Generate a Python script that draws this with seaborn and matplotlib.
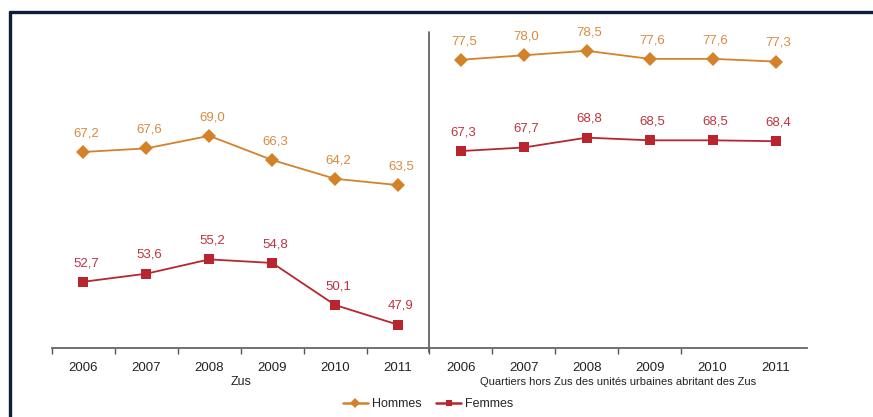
import pandas as pd
import matplotlib.pyplot as plt
import matplotlib.transforms as mtransforms
from matplotlib.lines import Line2D
import seaborn as sns

# Data
years = ["2006", "2007", "2008", "2009", "2010", "2011"]
zones = ["Zus", "Quartiers hors Zus des unités urbaines abritant des Zus"]
hommes_zus = [67.2, 67.6, 69.0, 66.3, 64.2, 63.5]
femmes_zus = [52.7, 53.6, 55.2, 54.8, 50.1, 47.9]
hommes_hors = [77.5, 78.0, 78.5, 77.6, 77.6, 77.3]
femmes_hors = [67.3, 67.7, 68.8, 68.5, 68.5, 68.4]

colors = {"Hommes": "#D4822A", "Femmes": "#B8252F"}
label_colors = {"Hommes": "#DA8A3E", "Femmes": "#BE3340"}
markers = {"Hommes": "D", "Femmes": "s"}

rows = []
series = [
    (zones[0], "Hommes", hommes_zus),
    (zones[0], "Femmes", femmes_zus),
    (zones[1], "Hommes", hommes_hors),
    (zones[1], "Femmes", femmes_hors),
]
for zone, sexe, vals in series:
    zi = zones.index(zone)
    for i, v in enumerate(vals):
        rows.append({"zone": zone, "sexe": sexe, "pos": zi * 6 + i, "val": v})
df = pd.DataFrame(rows)

sns.set_theme(style="white")
plt.rcParams["font.family"] = ["Liberation Sans Narrow", "Liberation Sans", "DejaVu Sans"]

fig = plt.figure(figsize=(8.73, 4.17), dpi=100)
ax = fig.add_axes([52 / 873, 69 / 417, 755 / 873, 316 / 417])

for zone in zones:
    sub = df[df["zone"] == zone]
    sns.lineplot(
        data=sub, x="pos", y="val", hue="sexe", style="sexe",
        palette=colors, markers=markers, dashes=False,
        linewidth=1.3, markersize=7.5, markeredgewidth=0,
        legend=False, ax=ax,
    )

# value labels
for _, r in df.iterrows():
    ax.annotate(f"{r['val']:.1f}".replace(".", ","), (r["pos"], r["val"]),
                xytext=(2, 13.5), textcoords="offset points",
                ha="center", va="center", fontsize=9.5,
                color=label_colors[r["sexe"]])

ax.set_xlim(-0.5, 11.5)
ax.set_ylim(45.3, 80.6)
ax.set_xlabel("")
ax.set_ylabel("")
ax.set_yticks([])
ax.set_xticks(range(12))
ax.set_xticklabels(years * 2, fontsize=9.5, color="#222222")
ax.set_xticks([x - 0.5 for x in range(11)], minor=True)
ax.tick_params(axis="x", which="major", length=0, pad=10)
ax.tick_params(axis="x", which="minor", length=4, width=1, color="#555555", bottom=True)

for s in ["top", "right", "left"]:
    ax.spines[s].set_visible(False)
ax.spines["bottom"].set_color("#666666")
ax.spines["bottom"].set_linewidth(1.3)

# divider between the two zones
ax.plot([5.5, 5.5], [45.3 - 0.4, 80.6], color="#555555", lw=1.2, clip_on=False)

# zone labels
trans = mtransforms.blended_transform_factory(ax.transData, ax.transAxes)
ax.text(2.5, -0.108, zones[0], transform=trans, ha="center", va="center",
        fontsize=9, color="#222222")
ax.text(8.5, -0.108, zones[1], transform=trans, ha="center", va="center",
        fontsize=8, color="#222222")

# legend
handles = [Line2D([], [], color=colors[k], marker=markers[k], markersize=5,
                  markeredgewidth=0, lw=1.8) for k in ["Hommes", "Femmes"]]
fig.legend(handles, ["Hommes", "Femmes"], loc="center", bbox_to_anchor=(428 / 873, 13 / 417),
           ncol=2, frameon=False, fontsize=9, handlelength=2.0,
           handletextpad=0.3, columnspacing=1.2)

# dark frame (top and left)
fig.add_artist(Line2D([9.5 / 873, 1.0], [1 - 12 / 417, 1 - 12 / 417], color="#0B1F3A",
                      lw=2.4, transform=fig.transFigure))
fig.add_artist(Line2D([9.5 / 873, 9.5 / 873], [0, 1 - 12 / 417], color="#0B1F3A",
                      lw=2.4, transform=fig.transFigure))

fig.savefig("out.png", dpi=100)
